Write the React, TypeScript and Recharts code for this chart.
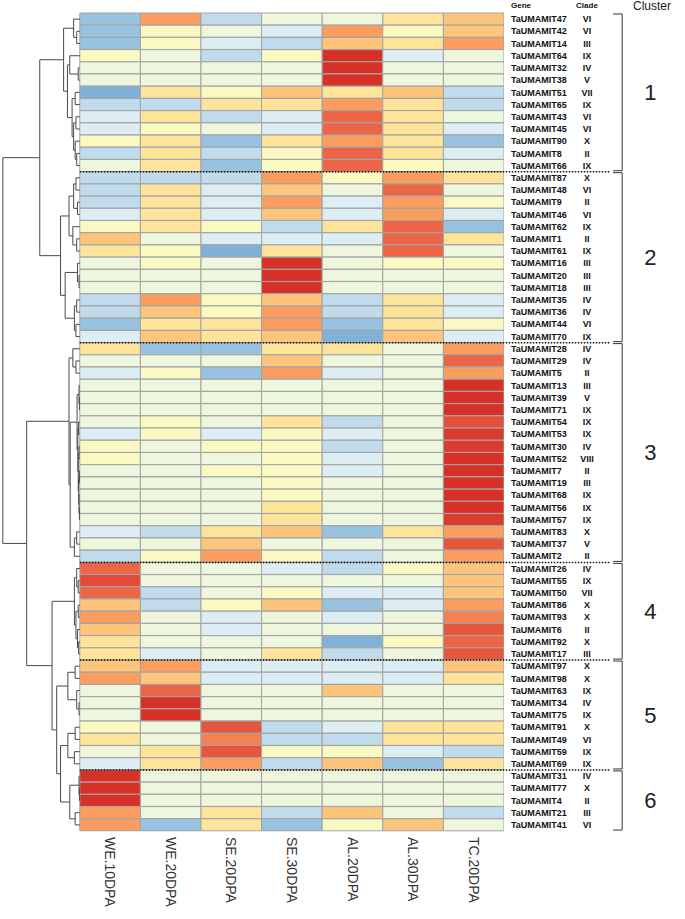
import React from "react";
import { ComposedChart, Bar, Cell, XAxis, YAxis, ReferenceLine, Scatter } from "recharts";

const GENES = [
  "TaUMAMIT47", "TaUMAMIT42", "TaUMAMIT14", "TaUMAMIT64", "TaUMAMIT32", "TaUMAMIT38", "TaUMAMIT51",
  "TaUMAMIT65", "TaUMAMIT43", "TaUMAMIT45", "TaUMAMIT90", "TaUMAMIT8", "TaUMAMIT66",
  "TaUMAMIT87", "TaUMAMIT48", "TaUMAMIT9", "TaUMAMIT46", "TaUMAMIT62", "TaUMAMIT1", "TaUMAMIT61",
  "TaUMAMIT16", "TaUMAMIT20", "TaUMAMIT18", "TaUMAMIT35", "TaUMAMIT36", "TaUMAMIT44", "TaUMAMIT70",
  "TaUMAMIT28", "TaUMAMIT29", "TaUMAMIT5", "TaUMAMIT13", "TaUMAMIT39", "TaUMAMIT71", "TaUMAMIT54",
  "TaUMAMIT53", "TaUMAMIT30", "TaUMAMIT52", "TaUMAMIT7", "TaUMAMIT19", "TaUMAMIT68", "TaUMAMIT56",
  "TaUMAMIT57", "TaUMAMIT83", "TaUMAMIT37", "TaUMAMIT2",
  "TaUMAMIT26", "TaUMAMIT55", "TaUMAMIT50", "TaUMAMIT86", "TaUMAMIT93", "TaUMAMIT6", "TaUMAMIT92", "TaUMAMIT17",
  "TaUMAMIT97", "TaUMAMIT98", "TaUMAMIT63", "TaUMAMIT34", "TaUMAMIT75", "TaUMAMIT91", "TaUMAMIT49",
  "TaUMAMIT59", "TaUMAMIT69",
  "TaUMAMIT31", "TaUMAMIT77", "TaUMAMIT4", "TaUMAMIT21", "TaUMAMIT41",
];

const CLADES = [
  "VI", "VI", "III", "IX", "IV", "V", "VII", "IX", "VI", "VI", "X", "II", "IX",
  "X", "VI", "II", "VI", "IX", "II", "IX", "III", "III", "III", "IV", "IV", "VI", "IX",
  "IV", "IV", "II", "III", "V", "IX", "IX", "IX", "IV", "VIII", "II", "III", "IX", "IX", "IX", "X", "V", "II",
  "IV", "IX", "VII", "X", "X", "II", "X", "III",
  "X", "X", "IX", "IV", "IX", "X", "VI", "IX", "IX",
  "IV", "X", "II", "III", "VI",
];

const SAMPLES = ["WE.10DPA", "WE.20DPA", "SE.20DPA", "SE.30DPA", "AL.20DPA", "AL.30DPA", "TC.20DPA"];

// colour level per gene (0 = blue, 4 = neutral, 10 = red)
const we10 = [1, 1, 1, 5, 4, 4, 0, 2, 3, 3, 5, 2, 4, 2, 2, 2, 3, 5, 7, 6, 4, 4, 4, 2, 2, 1, 3,
  6, 4, 3, 4, 4, 4, 4, 3, 5, 5, 4, 4, 4, 4, 4, 3, 4, 2, 9, 9.5, 9, 7, 8, 7, 6, 6,
  7, 8, 4, 4, 4, 5, 6, 4, 3, 10, 10, 10, 8, 8];
const we20 = [8, 5, 5, 4, 4, 4, 6, 2, 6, 5, 6, 6, 6, 2, 6, 6, 6, 6, 4, 5, 5, 4, 4, 8, 7, 6, 7,
  1, 4, 5, 4, 4, 4, 5, 5, 4, 4, 4, 4, 4, 4, 4, 2, 4, 5, 4, 4, 2, 2, 4, 4, 4, 3,
  8, 7, 9, 10, 10, 4, 4, 6, 6, 4, 4, 4, 4, 1];
const se20 = [2, 4, 3, 2, 4, 4, 5, 6, 2, 4, 1, 2, 1, 2, 3, 3, 3, 5, 3, 0, 4, 4, 4, 5, 5, 6, 6,
  1, 4, 1, 4, 4, 4, 4, 3, 5, 4, 5, 4, 4, 4, 4, 6, 7, 8, 4, 4, 4, 5, 3, 3, 4, 4,
  3, 3, 4, 4, 4, 9.3, 8.5, 9.3, 8, 4, 4, 4, 6, 6];
const se30 = [4, 3, 2, 5, 4, 4, 7, 6, 3, 3, 6, 5, 5, 8, 7, 8, 7, 2, 3, 6, 10, 10, 10, 7, 8, 8, 7,
  6, 7, 8, 4, 4, 4, 6, 5, 5, 5, 5, 5, 5, 6, 6, 7, 4, 5, 3, 4, 5, 7, 4, 4, 4, 6,
  3, 3, 4, 4, 4, 2, 2, 5, 2, 4, 4, 4, 2, 1];
const al20 = [4, 8, 7, 10, 10, 10, 6, 8, 9, 9, 8, 9, 9, 5, 4, 3, 3, 6, 3, 4, 4, 4, 4, 2, 2, 1, 0,
  6, 4, 3, 4, 4, 4, 2, 3, 2, 3, 3, 4, 4, 4, 4, 1, 4, 2, 2, 4, 3, 1, 3, 4, 0, 2,
  3, 3, 7, 4, 4, 3, 2, 5, 7, 4, 4, 4, 7, 5];
const al30 = [6, 5, 6, 3, 4, 4, 7, 6, 6, 6, 6, 6, 5, 8, 9, 8, 8, 9, 9, 9, 5, 4, 4, 6, 6, 6, 7,
  4, 4, 4, 4, 4, 4, 4, 4, 4, 4, 4, 4, 4, 4, 4, 6, 4, 4, 5, 4, 3, 3, 4, 4, 5, 4,
  3, 3, 4, 4, 4, 6, 6, 3, 1, 4, 4, 4, 4, 7];
const tc20 = [7, 7, 8, 4, 4, 4, 2, 2, 4, 3, 1, 3, 4, 6, 4, 5, 3, 1, 6, 4, 5, 4, 4, 3, 3, 5, 3,
  8, 9, 8, 10, 10, 10, 9.4, 9.8, 9.8, 10, 10, 10, 10, 10, 9.8, 8, 9.3, 8, 7, 7, 7, 8, 8.5, 9.3, 9, 9.3,
  7, 6, 4, 4, 4, 6, 6, 2, 6, 4, 4, 4, 2, 4];
const VALUES = [we10, we20, se20, se30, al20, al30, tc20];

// cluster boundaries (row index where each cluster starts / ends)
const CLUSTER_BREAKS = [0, 13, 27, 45, 53, 62, 67];

// dendrogram: merge height + two children; numbers are leaf rows
type Node = number | { h: number; a: Node; b: Node };
const n = (h: number, a: Node, b: Node): Node => ({ h, a, b });
const c1 = n(2.1, n(0.8, 0, n(0.4, 1, 2)), n(1.6, n(1.3, 3, n(0.2, 4, 5)), n(1.0, n(0.6, 6, 7), n(0.8, n(0.5, 8, 9), n(0.6, 10, n(0.4, 11, 12))))));
const c2 = n(2.5, n(1.4, n(0.8, n(0.5, 13, 14), n(0.3, 15, 16)), n(0.9, 17, n(0.4, 18, 19))), n(1.9, n(0.3, 20, n(0.1, 21, 22)), n(0.7, n(0.4, 23, 24), n(0.5, 25, 26))));
const c3 = n(1.4, n(0.9, 27, n(0.5, 28, 29)), n(1.25, n(0.35, n(0.1, 30, n(0.05, 31, 32)), n(0.25, n(0.15, 33, 34), n(0.2, n(0.1, 35, 36), n(0.15, n(0.05, 37, 38), n(0.1, 39, n(0.05, 40, 41)))))), n(0.7, n(0.4, 42, 43), 44)));
const c4 = n(0.7, n(0.4, 45, n(0.2, 46, 47)), n(0.5, n(0.2, 48, 49), n(0.3, 50, n(0.15, 51, 52))));
const c5a = n(1.55, n(0.6, 53, 54), n(0.4, 55, n(0.1, 56, 57)));
const c5b = n(1.55, n(0.6, 58, 59), n(0.7, 60, 61));
const c6 = n(1.3, n(0.1, 62, n(0.05, 63, 64)), n(0.6, 65, 66));
const TREE = n(10, n(5.2, c1, c2), n(6.9, c3, n(3.6, c4, n(3.0, c5a, n(2.5, c5b, c6)))));

const PALETTE = ["#80b1d8", "#98c3e0", "#c0dcec", "#dcedf3", "#eef6de", "#fbf9c2",
  "#fee39a", "#fdc57c", "#fb9d5e", "#ec6547", "#d73027"];

function hex(c: string) {
  return [1, 3, 5].map((i) => parseInt(c.slice(i, i + 2), 16));
}
function color(v: number) {
  const lo = Math.max(0, Math.min(9, Math.floor(v)));
  const t = Math.min(1, v - lo);
  const a = hex(PALETTE[lo]);
  const b = hex(PALETTE[lo + 1]);
  const m = a.map((x, i) => Math.round(x + (b[i] - x) * t));
  return `rgb(${m[0]},${m[1]},${m[2]})`;
}

const rows = GENES.map((g) => {
  const r: any = { gene: g };
  SAMPLES.forEach((_, j) => (r["c" + j] = 1));
  return r;
});
// leaf tips of the dendrogram (row centres), used by the overlay chart
const leaves = GENES.map((g, i) => ({ x: 0, y: i + 0.5 }));

const HX = 0.127; // dendrogram height -> x units
type Seg = [number, number, number, number];
function buildSegs(node: Node, segs: Seg[]): { y: number; h: number } {
  if (typeof node === "number") return { y: node + 0.5, h: 0 };
  const l = buildSegs(node.a, segs);
  const r = buildSegs(node.b, segs);
  const x = -node.h * HX;
  segs.push([x, l.y, x, r.y]);
  segs.push([-l.h * HX, l.y, x, l.y]);
  segs.push([-r.h * HX, r.y, x, r.y]);
  return { y: (l.y + r.y) / 2, h: node.h };
}
const SEGS: Seg[] = [];
buildSegs(TREE, SEGS);

const GeneTick = (props: any) => {
  const { x, y, payload } = props;
  const i = GENES.indexOf(payload.value);
  return (
    <g>
      <text x={x + 7} y={y} dy="0.35em" fontSize={9} fontWeight="bold" fill="#111">
        {payload.value}
      </text>
      <text x={x + 83} y={y} dy="0.35em" fontSize={9} fontWeight="bold" fill="#111" textAnchor="middle">
        {CLADES[i]}
      </text>
    </g>
  );
};

const SampleTick = (props: any) => {
  const { x, y, payload } = props;
  return (
    <text transform={`translate(${x},${y}) rotate(90)`} dy="0.35em" fontSize={14} fill="#333">
      {SAMPLES[Math.floor(payload.value)]}
    </text>
  );
};

const W = 685;
const H = 919;
const MARGIN = { top: 13, right: 181, bottom: 88, left: 1 };

export default function App() {
  const bx = 8.95;
  return (
    <div style={{ position: "absolute", left: 0, top: 0, width: W, height: H, background: "#fff", fontFamily: "'Liberation Sans', Arial, sans-serif" }}>
      <ComposedChart
        width={W}
        height={H}
        layout="vertical"
        data={rows}
        margin={{ top: MARGIN.top, right: 0, bottom: 0, left: MARGIN.left }}
        barCategoryGap={0}
        barGap={0}
      >
        <XAxis
          type="number"
          domain={[-1.3, 7]}
          allowDataOverflow
          ticks={[0.5, 1.5, 2.5, 3.5, 4.5, 5.5, 6.5]}
          interval={0}
          height={MARGIN.bottom}
          axisLine={false}
          tickLine={false}
          tickSize={0}
          tickMargin={6}
          tick={SampleTick}
        />
        <YAxis
          type="category"
          dataKey="gene"
          orientation="right"
          width={MARGIN.right}
          interval={0}
          axisLine={false}
          tickLine={false}
          tickSize={0}
          tickMargin={0}
          tick={GeneTick}
        />
        {SAMPLES.map((s, j) => (
          <Bar key={s} dataKey={"c" + j} stackId="a" stroke="#a3a3a3" strokeWidth={1} isAnimationActive={false}>
            {rows.map((_, i) => (
              <Cell key={i} fill={color(VALUES[j][i])} />
            ))}
          </Bar>
        ))}
      </ComposedChart>

      {/* dendrogram, cluster separators and brackets, on the same row scale */}
      <div style={{ position: "absolute", left: 0, top: 0, width: W, height: H, pointerEvents: "none" }}>
        <ComposedChart width={W} height={H} data={leaves} margin={MARGIN}>
          <XAxis type="number" dataKey="x" domain={[-1.3, 7]} allowDataOverflow hide />
          <YAxis type="number" dataKey="y" domain={[0, 67]} allowDataOverflow reversed hide />
          <Scatter dataKey="y" fill="none" shape={() => null} isAnimationActive={false} />
          {SEGS.map((s, k) => (
            <ReferenceLine
              key={"d" + k}
              segment={[{ x: s[0], y: s[1] }, { x: s[2], y: s[3] }]}
              stroke="#4a4a4a"
              strokeWidth={1}
              ifOverflow="visible"
            />
          ))}
          {CLUSTER_BREAKS.slice(1, -1).map((b) => (
            <ReferenceLine
              key={"b" + b}
              segment={[{ x: 0, y: b }, { x: 8.75, y: b }]}
              stroke="#111"
              strokeWidth={1.5}
              strokeDasharray="1.5 1.5"
              ifOverflow="visible"
            />
          ))}
          {CLUSTER_BREAKS.slice(0, -1).map((s, k) => {
            const e = CLUSTER_BREAKS[k + 1];
            return (
              <React.Fragment key={"c" + k}>
                <ReferenceLine segment={[{ x: 8.8, y: s + 0.08 }, { x: bx, y: s + 0.08 }]} stroke="#333" ifOverflow="visible" />
                <ReferenceLine segment={[{ x: 8.8, y: e - 0.08 }, { x: bx, y: e - 0.08 }]} stroke="#333" ifOverflow="visible" />
                <ReferenceLine
                  segment={[{ x: bx, y: s + 0.08 }, { x: bx, y: e - 0.08 }]}
                  stroke="#333"
                  ifOverflow="visible"
                  label={{ value: String(k + 1), position: "right", offset: 22, fontSize: 22, fill: "#222" }}
                />
              </React.Fragment>
            );
          })}
        </ComposedChart>
      </div>

      <div style={{ position: "absolute", left: 511, top: 0, fontSize: 8, lineHeight: "12px", fontWeight: "bold", color: "#111" }}>Gene</div>
      <div style={{ position: "absolute", left: 567, width: 40, top: 0, fontSize: 8, lineHeight: "12px", fontWeight: "bold", color: "#111", textAlign: "center" }}>Clade</div>
      <div style={{ position: "absolute", left: 633, top: 0, fontSize: 12, lineHeight: "13px", color: "#222" }}>Cluster</div>
    </div>
  );
}
